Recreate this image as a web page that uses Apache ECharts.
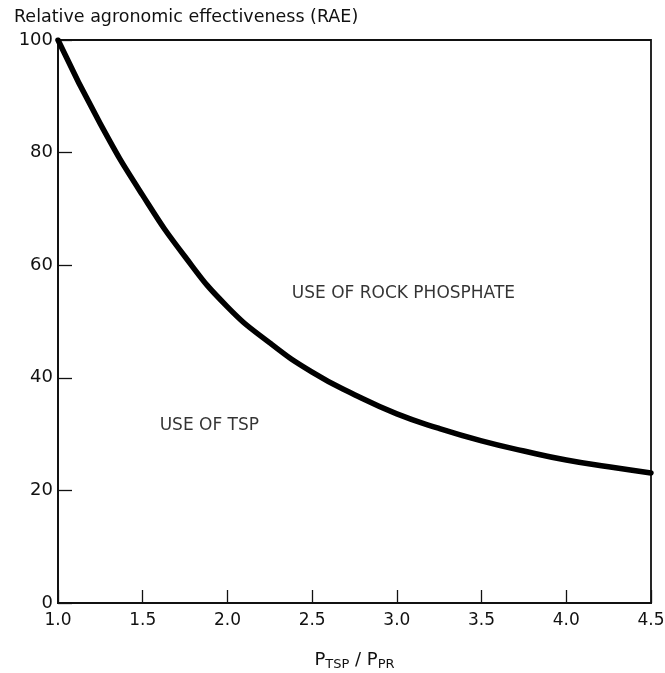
<!DOCTYPE html>
<html>
<head>
<meta charset="utf-8">
<script src="https://cdn.jsdelivr.net/npm/echarts@6/dist/echarts.min.js"></script>
<style>html,body{margin:0;padding:0;background:#fff;}#c{width:665px;height:673px;}</style>
</head>
<body>
<div id="c"></div>
<script>
// Data
const ratioPrice = [1.0, 1.25, 1.5, 1.75, 2.0, 2.25, 2.5, 2.75, 3.0, 3.25, 3.5, 3.75, 4.0, 4.25, 4.5];
const raeValues  = [100, 85.1, 72.4, 61.5, 52.6, 46.2, 41.0, 37.0, 33.6, 31.0, 28.8, 27.0, 25.4, 24.2, 23.1];
const xTickLabels = ['1.0','1.5','2.0','2.5','3.0','3.5','4.0','4.5'];
const yTickLabels = ['0','20','40','60','80','100'];
const annotationText = ['USE OF ROCK PHOSPHATE', 'USE OF TSP'];
const annotationX = [2.38, 1.60];
const annotationY = [55, 31.6];

const chart = echarts.init(document.getElementById('c'), null, {renderer: 'canvas'});
const font = 'DejaVu Sans';
const curve = ratioPrice.map((x, i) => [x, raeValues[i]]);
const notes = annotationText.map((t, i) => ({value: [annotationX[i], annotationY[i]], name: t}));

chart.setOption({
  animation: false,
  backgroundColor: '#fff',
  title: {
    text: 'Relative agronomic effectiveness (RAE)',
    left: 9, top: 3,
    textStyle: {fontFamily: font, fontSize: 17.5, fontWeight: 'normal', color: '#111'}
  },
  grid: {left: 58, top: 40, right: 14, bottom: 70, outerBoundsMode: 'none', containLabel: false,
    show: true, borderColor: '#111', borderWidth: 1.8, backgroundColor: 'transparent'},
  xAxis: {
    type: 'value', min: 1.0, max: 4.5, interval: 0.5,
    name: '{p|P}{s|TSP}{p| / P}{s|PR}',
    nameLocation: 'middle', nameGap: 46,
    nameTextStyle: {rich: {
      p: {fontFamily: font, fontSize: 18, color: '#111'},
      s: {fontFamily: font, fontSize: 13, color: '#111', verticalAlign: 'bottom', padding: [9, 0, 0, 0]}
    }},
    axisLine: {show: true, lineStyle: {color: '#111', width: 1.8}},
    axisTick: {show: true, inside: true, length: 13, lineStyle: {color: '#111', width: 1.3}},
    axisLabel: {fontFamily: font, fontSize: 17, color: '#111', margin: 9,
      formatter: v => xTickLabels[Math.round((v - 1.0) / 0.5)]},
    splitLine: {show: false}
  },
  yAxis: {
    type: 'value', min: 0, max: 100, interval: 20,
    axisLine: {show: true, lineStyle: {color: '#111', width: 1.8}},
    axisTick: {show: true, inside: true, length: 14, lineStyle: {color: '#111', width: 1.3}},
    axisLabel: {fontFamily: font, fontSize: 18, color: '#111', margin: 5,
      formatter: v => yTickLabels[Math.round(v / 20)]},
    splitLine: {show: false}
  },
  series: [
    {
      type: 'line', data: curve, smooth: 0.5, symbol: 'none',
      lineStyle: {color: '#000', width: 5.5, cap: 'round'}
    },
    {
      type: 'scatter', data: notes, symbolSize: 0,
      label: {show: true, position: 'right', distance: 0, formatter: p => p.name,
        fontFamily: font, fontSize: 17, color: '#000'}
    }
  ]
});
</script>
</body>
</html>
